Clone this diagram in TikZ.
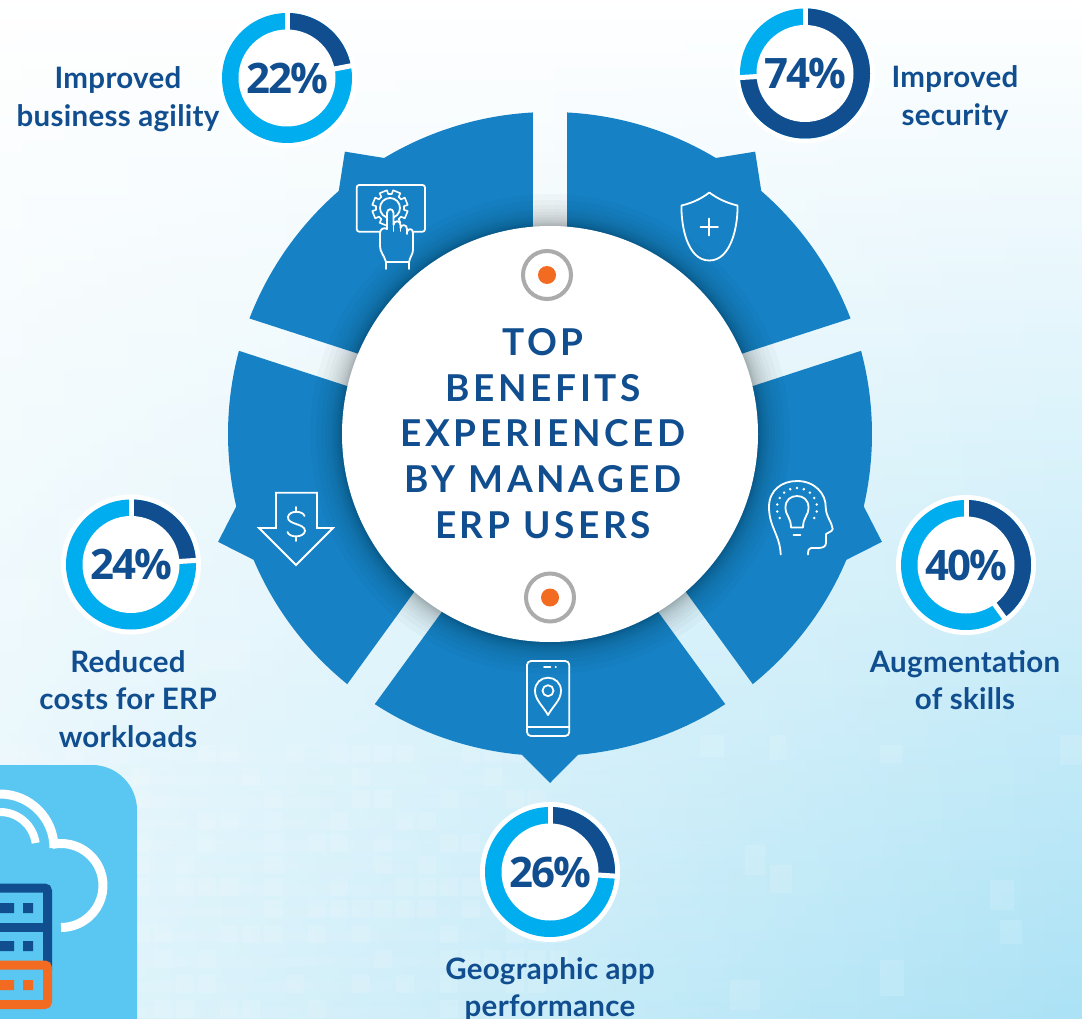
\documentclass[tikz,border=0pt]{standalone}
\usepackage{fontspec}
\setmainfont{Lato}
\newfontfamily\capfont[LetterSpace=1]{Lato}
\newfontfamily\pctfont[LetterSpace=-5]{Open Sans}
\newfontfamily\titlefont[LetterSpace=10]{Lato}
\usetikzlibrary{fadings}
\definecolor{navy}{HTML}{104E8F}
\definecolor{ringlight}{HTML}{00AEEF}
\definecolor{wheelblue}{HTML}{1682C5}
\definecolor{boxblue}{HTML}{59C7F1}
\definecolor{bgblue}{HTML}{ABE2F5}
\definecolor{dotorange}{HTML}{F36A21}
\definecolor{dotgray}{HTML}{ABABAB}
\tikzset{
  up/.style={x=1pt,y=1pt},
  icon/.style={draw=white,line width=1.8pt,line cap=round,line join=round},
  caption/.style={text=navy,align=center,font=\fontsize{29.5}{37.5}\capfont\bfseries,inner sep=0pt},
  pcttext/.style={text=navy,font=\fontsize{42}{42}\pctfont\bfseries,inner sep=0pt},
  titletext/.style={text=navy,align=center,font=\fontsize{37}{45.7}\titlefont\bfseries,inner sep=0pt},
  boxline/.style={line width=9pt,rounded corners=3pt},
}
\newcommand{\wheelseg}[1]{%
  \pgfmathsetmacro{\ma}{#1-36}%
  \pgfmathsetmacro{\mb}{#1-72}%
  \fill[wheelblue] ({#1-3.03}:322) arc[start angle=#1-3.03,end angle=\ma+5,radius=322]
    -- (\ma:349) -- ({\ma-5}:322)
    arc[start angle=\ma-5,end angle=\mb+3.03,radius=322]
    -- ({\mb+4.9}:200) arc[start angle=\mb+4.9,end angle=#1-4.9,radius=200] -- cycle;
}
\newcommand{\pctring}[5]{% name, x, y, pct, text
  \begin{scope}[shift={(#2,#3)},up]
    \pgfmathsetmacro{\ringend}{90-3.6*#4}
    \fill[white] (0,0) circle[radius=70pt];
    \fill[ringlight] (0,0) circle[radius=65pt];
    \fill[navy] (90:65) arc[start angle=90,end angle=\ringend,radius=65] -- (\ringend:0) -- cycle;
    \draw[white,line width=5pt] (0,0) -- (90:68);
    \draw[white,line width=5pt] (0,0) -- (\ringend:68);
    \fill[white] (0,0) circle[radius=48.5pt];
    \node[pcttext] (#1) at (0,0) {#5};
  \end{scope}
}
\begin{document}
\begin{tikzpicture}[x=1pt,y=-1pt]
\useasboundingbox (0,0) rectangle (1082,1019);
\clip (0,0) rectangle (1082,1019);
% background
\shade[top color=white,bottom color=bgblue] (0,0) rectangle (1082,1019);
\fill[white,opacity=.68,path fading=east] (0,0) rectangle (1082,1019);
% faint tiles
\pgfmathsetseed{11}
\foreach \ty in {745,768,790,812,834,856,878,900,925,950,975,1000}{
  \fill[white,opacity=.09,path fading=east] (0,\ty+7) rectangle (900,\ty+17);
  \foreach \tx in {0,22,...,560}{
    \pgfmathparse{rnd}
    \ifdim\pgfmathresult pt>0.55pt
      \fill[white,opacity=.12] (\tx,\ty) rectangle (\tx+18,\ty+18);
    \fi
  }
}
\foreach \tx/\ty/\tw/\th in {700/735/24/22,770/735/16/25,880/745/22/18,1060/735/24/30,745/845/20/30,770/865/22/28,990/880/24/30,1000/920/22/24,730/980/30/30,880/960/24/36,0/580/40/40,60/510/40/50,200/640/50/30}{
  \fill[white,opacity=.12] (\tx,\ty) rectangle (\tx+\tw,\ty+\th);
}
% wheel
\begin{scope}[shift={(550,434)},up]
  \foreach \a in {90,18,-54,-126,-198}{\wheelseg{\a}}
  \foreach \r in {240,234,229,225,222,219,217,215,213.5,212,211,210,209}{
    \fill[black,opacity=.022] (0,0) circle[radius=\r pt];
  }
  \fill[white] (0,0) circle[radius=208pt];
\end{scope}
% centre marks
\draw[dotgray,line width=4pt] (547,275) circle[radius=24pt];
\fill[dotorange] (547,275) circle[radius=9pt];
\draw[dotgray,line width=4pt] (550,597.5) circle[radius=24pt];
\fill[dotorange] (550,597.5) circle[radius=9pt];
\node[titletext] (title) at (543,433.5) {TOP\\BENEFITS\\EXPERIENCED\\BY MANAGED\\ERP USERS};
% shield icon
\draw[icon] (709.3,192.5) .. controls (701,199) and (692,203) .. (681.5,205.5)
  .. controls (681,225) and (687,260.5) .. (709.3,260.5)
  .. controls (731.5,260.5) and (738,225) .. (737.5,205.5)
  .. controls (727,203) and (718,199) .. (709.3,192.5) -- cycle;
\draw[icon] (700.5,227) -- (718,227) (709.3,218.5) -- (709.3,235.5);
% screen + gear + hand icon
\draw[icon,rounded corners=2.5pt] (380,231.7) -- (356.7,231.7) -- (356.7,185) -- (425,185) -- (425,231.7) -- (413,231.7);
\begin{scope}[shift={(390,208)},up]
  \draw[icon,line width=1.6pt] (0:14)
    \foreach \ga in {0,45,...,315}{
      -- ({\ga+7}:14) -- ({\ga+10}:18) -- ({\ga+35}:18) -- ({\ga+38}:14) -- ({\ga+45}:14)
    } -- cycle;
  \draw[icon] (0,0) circle[radius=10pt];
\end{scope}
\draw[icon,fill=wheelblue] (386,262) .. controls (384,255) and (380,252) .. (380,246)
  -- (380,233) .. controls (380,229) and (384,227) .. (387,229)
  -- (387,213) .. controls (387,208) and (393.5,208) .. (393.5,213)
  -- (393.5,225) .. controls (394,220) and (400,220) .. (400.5,225)
  -- (400.5,228) .. controls (401,224) and (407,224) .. (407,229)
  -- (407,232) .. controls (408,228) and (413,228) .. (413,233)
  -- (413,250) .. controls (413,254) and (410,257) .. (409,262) -- cycle;
\draw[icon] (393.5,222) -- (393.5,231) (400.5,226) -- (400.5,231) (407,229) -- (407,234)
  (386,262) -- (386,269) (409,262) -- (409,269);
% head + bulb icon
\draw[icon] (780.7,554.5) .. controls (780,535) and (769,527) .. (769,507)
  .. controls (769,490) and (782,481) .. (797,481)
  .. controls (815,481) and (826,494) .. (825.7,507)
  .. controls (826,517) and (832,522) .. (832.7,529)
  .. controls (832,532) and (828,532) .. (826,534)
  -- (826,543) .. controls (826,547) and (822,548) .. (818,548)
  -- (811,548) .. controls (809,548) and (808,550) .. (808,554.5);
\draw[icon] (791,527.5) .. controls (791,517) and (785.5,516) .. (785.5,507.5)
  .. controls (785.5,500) and (790.5,496) .. (797,496)
  .. controls (803.5,496) and (808.5,500) .. (808.5,507.5)
  .. controls (808.5,516) and (803,517) .. (803,527.5) -- cycle;
\draw[icon] (793.5,535) -- (800.5,535);
\begin{scope}[shift={(797,508)},up]
  \foreach \da in {-30,-10,...,210}{\fill[white] (\da:20) circle[radius=1.4pt];}
\end{scope}
% down arrow icon
\draw[icon,line join=miter] (276,492.7) -- (317,492.7) -- (317,528) -- (333,528) -- (296,565) -- (259,528) -- (276,528) -- cycle;
\draw[icon] (304.5,516) .. controls (303,510.5) and (289,510) .. (288,517)
  .. controls (287,525) and (305,523) .. (305,531)
  .. controls (304,538) and (289,538) .. (287.5,532);
\draw[icon] (296,507) -- (296,511) (296,537) -- (296,541);
% phone icon
\draw[icon,rounded corners=4pt] (527,661) rectangle (569.3,736);
\draw[icon] (527,726.7) -- (569.3,726.7);
\draw[icon] (544,667) -- (550.5,667) (555.5,667) -- (556,667);
\draw[icon] (548,715) .. controls (543,706) and (535,700) .. (535,690.7)
  .. controls (535,683) and (541,677.7) .. (548,677.7)
  .. controls (555,677.7) and (561,683) .. (561,690.7)
  .. controls (561,700) and (553,706) .. (548,715) -- cycle;
\draw[icon] (548,690.7) circle[radius=5.5pt];
% rings
\pctring{pctA}{287}{78}{22}{22\%}
\pctring{pctB}{805}{73.5}{74}{74\%}
\pctring{pctC}{966}{565}{40}{40\%}
\pctring{pctD}{131}{564.5}{24}{24\%}
\pctring{pctE}{550}{872}{26}{26\%}
% captions
\node[caption] (capA) at (118,99) {Improved\\business agility};
\node[caption] (capB) at (955,98) {Improved\\security};
\node[caption] (capC) at (965,680) {Augmentation\\of skills};
\node[caption] (capD) at (128,699) {Reduced\\costs for ERP\\workloads};
\node[caption] (capE) at (550,989.5) {Geographic app\\performance};
% cloud server box
\fill[boxblue] (-60,765) [rounded corners=45pt] -- (137,765) -- (137,1080) -- (-60,1080) -- cycle;
\begin{scope}[shift={(0,848)},up]
  \draw[white,line width=9pt] (90:54) arc[start angle=90,end angle=0,radius=54];
  \draw[white,line width=8pt] (90:36) arc[start angle=90,end angle=8,radius=36];
\end{scope}
\begin{scope}[shift={(61,885.5)},up]
  \draw[white,line width=9pt] (102:42) arc[start angle=102,end angle=-90,radius=42];
\end{scope}
\draw[navy,boxline] (-10,888) -- (47.5,888) -- (47.5,970);
\draw[navy,line width=9pt] (-10,927) -- (47.5,927);
\draw[dotorange,boxline,fill=boxblue] (-10,965) -- (47.5,965) -- (47.5,1004.5) -- (-10,1004.5);
\fill[navy] (-1,903) rectangle (14,913) (23,903) rectangle (33,913) (-1,941) rectangle (14,951) (23,941) rectangle (33,951);
\fill[dotorange] (-1,980) rectangle (14,990) (23,980) rectangle (33,990);
\end{tikzpicture}
\end{document}
